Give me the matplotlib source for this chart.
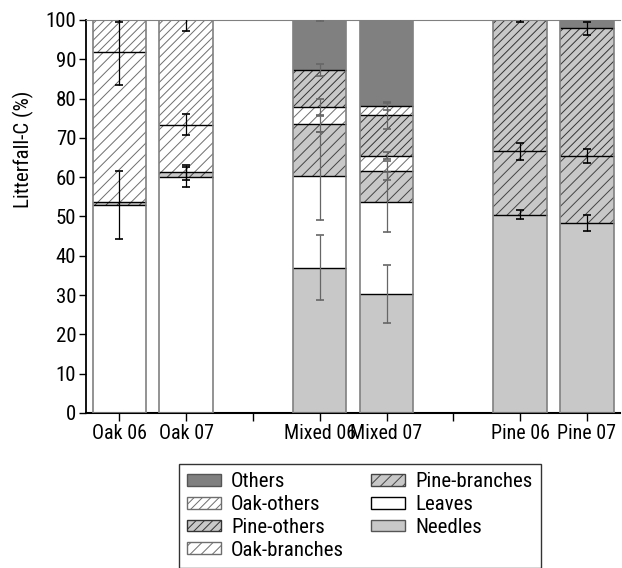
import numpy as np
import matplotlib
matplotlib.use("Agg")
import matplotlib.pyplot as plt
from matplotlib import font_manager
from matplotlib.patches import Patch

# pick a narrow sans if one is installed, otherwise plain Liberation Sans
avail = {f.name for f in font_manager.fontManager.ttflist}
prefs = ["Liberation Sans Narrow", "Arial Narrow", "Roboto Condensed",
         "Noto Sans Condensed", "Noto Sans SemiCondensed", "Open Sans Condensed",
         "DejaVu Sans Condensed"]
narrow = next((p for p in prefs if p in avail), None)
cond = [f for f in font_manager.fontManager.ttflist
        if f.stretch in ("condensed", "semi-condensed") and f.style == "normal"
        and f.weight in (400, "normal", "regular")]
if narrow is None and cond:
    narrow = cond[0].name
    plt.rcParams['font.stretch'] = cond[0].stretch
if narrow is not None:
    plt.rcParams['font.family'] = [narrow, 'DejaVu Sans']
    fs = 15
else:
    plt.rcParams['font.family'] = ['Liberation Sans', 'DejaVu Sans']
    fs = 12.5
plt.rcParams['hatch.linewidth'] = 0.7

# categories and x positions (gaps between the three stands)
sites = ["Oak 06", "Oak 07", "Mixed 06", "Mixed 07", "Pine 06", "Pine 07"]
positions = [0, 1, 3, 4, 6, 7]

# litterfall-C fractions (%), stacked bottom -> top
needles       = [0.0, 0.0, 37.0, 30.2, 50.5, 48.3]
leaves        = [53.0, 60.0, 23.4, 23.4, 0.0, 0.0]
pine_branches = [0.6, 1.3, 13.2, 8.1, 16.1, 17.2]
oak_branches  = [38.3, 12.1, 4.3, 3.8, 0.0, 0.0]
pine_others   = [0.0, 0.0, 9.3, 10.2, 33.4, 32.4]
oak_others    = [8.1, 26.6, 0.0, 2.3, 0.0, 0.0]
others        = [0.0, 0.0, 12.8, 22.0, 0.0, 2.1]

# error (+/-) at the top of each component
needles_err       = [0.0, 0.0, 8.2, 7.4, 1.2, 2.0]
leaves_err        = [8.6, 2.6, 11.2, 7.6, 0.0, 0.0]
pine_branches_err = [0.0, 1.9, 2.0, 2.3, 2.2, 1.8]
oak_branches_err  = [8.4, 2.6, 2.0, 0.8, 0.0, 0.0]
pine_others_err   = [0.0, 0.0, 1.5, 3.4, 0.4, 1.7]
oak_others_err    = [0.5, 2.8, 0.0, 0.8, 0.0, 0.0]
others_err        = [0.0, 0.0, 0.3, 0.0, 0.0, 0.0]

components = [
    # label, values, errors, face, hatch, hatch colour
    ("Needles", needles, needles_err, "#c8c8c8", None, "#c8c8c8"),
    ("Leaves", leaves, leaves_err, "white", None, "white"),
    ("Pine-branches", pine_branches, pine_branches_err, "#c8c8c8", "///", "#444444"),
    ("Oak-branches", oak_branches, oak_branches_err, "white", "///", "#6e6e6e"),
    ("Pine-others", pine_others, pine_others_err, "#c8c8c8", "////", "#333333"),
    ("Oak-others", oak_others, oak_others_err, "white", "////", "#6e6e6e"),
    ("Others", others, others_err, "#808080", None, "#808080"),
]
err_colors = ["black", "black", "#666666", "#666666", "black", "black"]

fig = plt.figure(figsize=(6.22, 5.68), dpi=100)
ax = fig.add_axes([0.1381, 0.2729, 0.8592, 0.6919])

x = np.array(positions, dtype=float)
width = 0.8
bottom = np.zeros(len(sites))
tops = []
for label, vals, errs, face, hatch, hcol in components:
    vals = np.array(vals)
    ax.bar(x, vals, width, bottom=bottom, color=face, edgecolor=hcol,
           hatch=hatch, linewidth=0, zorder=1)
    bottom = bottom + vals
    tops.append((bottom.copy(), np.array(errs), vals))

# segment boundaries
for top, errs, vals in tops[:-1]:
    for xi, t, v in zip(x, top, vals):
        if v > 0 and t < 99.9:
            ax.hlines(t, xi - width / 2, xi + width / 2, colors="black",
                      linewidth=1.0, zorder=3)

# outline of each stacked bar
ax.bar(x, bottom, width, fill=False, edgecolor="#808080", linewidth=1.2, zorder=4)

# error bars
for top, errs, vals in tops:
    for xi, t, e, c in zip(x, top, errs, err_colors):
        if e > 0:
            ax.errorbar(xi, t, yerr=e, fmt="none", ecolor=c, elinewidth=0.9,
                        capsize=3, capthick=1.2, zorder=5)

ax.set_xlim(-0.5, 7.5)
ax.set_ylim(0, 100)
ax.set_yticks(np.arange(0, 101, 10))
ax.set_xticks(range(8))
labels = {p: s for p, s in zip(positions, sites)}
ax.set_xticklabels([labels.get(i, "") for i in range(8)])
ax.tick_params(axis="both", labelsize=fs, direction="out", length=5, width=1, pad=2)
ax.tick_params(axis="x", length=6, labelsize=fs - 0.6)

ax.set_ylabel("Litterfall-C (%)", fontsize=fs)
ax.yaxis.set_label_coords(-0.097, 0.67)

ax.spines["right"].set_visible(False)
ax.spines["top"].set_color("#808080")
ax.spines["top"].set_linewidth(0.8)
ax.spines["left"].set_linewidth(1.3)
ax.spines["bottom"].set_linewidth(1.5)

# legend
order = ["Others", "Oak-others", "Pine-others", "Oak-branches",
         "Pine-branches", "Leaves", "Needles"]
style = {c[0]: c for c in components}
handles = []
for name in order:
    _, _, _, face, hatch, hcol = style[name]
    if hatch:
        ec = hcol
    elif face == "white":
        ec = "black"
    else:
        ec = "#555555"
    handles.append(Patch(facecolor=face, edgecolor=ec, hatch=hatch,
                         linewidth=1.0, label=name))
leg = fig.legend(handles=handles, ncol=2, loc="upper left",
                 bbox_to_anchor=(0.288, 0.183), fontsize=fs, frameon=True,
                 fancybox=False, edgecolor="black", handlelength=1.6,
                 handleheight=0.5, labelspacing=0.18, columnspacing=1.3,
                 handletextpad=0.5, borderpad=0.4, borderaxespad=0)
leg.get_frame().set_linewidth(1.0)

fig.savefig("out.png", dpi=100)
